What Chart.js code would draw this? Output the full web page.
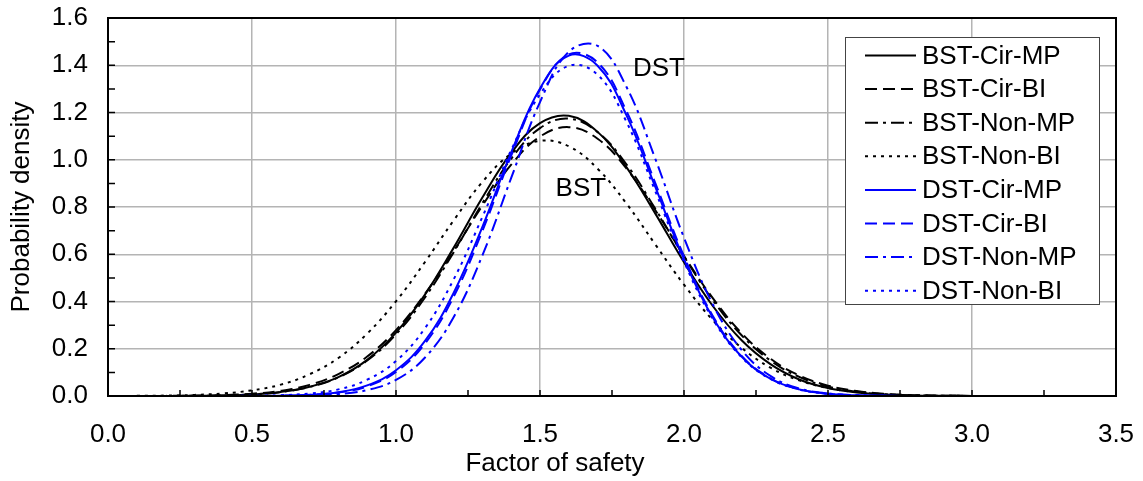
<!DOCTYPE html>
<html>
<head>
<meta charset="utf-8">
<script src="https://cdn.jsdelivr.net/npm/chart.js@4.4.1/dist/chart.umd.min.js"></script>
<style>
  html, body { margin: 0; padding: 0; background: #fff; }
  #wrap { width: 1143px; height: 481px; }
</style>
</head>
<body>
<div id="wrap"><canvas id="pdfChart" width="1143" height="481"></canvas></div>
<script>
// Factor of safety (x) and probability density
const factorOfSafety = [0.1, 0.2, 0.3, 0.4, 0.5, 0.6, 0.7, 0.8, 0.9, 1.0, 1.1, 1.2, 1.3, 1.4, 1.5, 1.6, 1.7, 1.8,
    1.9, 2.0, 2.1, 2.2, 2.3, 2.4, 2.5, 2.6, 2.7, 2.8, 2.9, 3.0, 3.1, 3.2, 3.3, 3.4, 3.45];

const bstCirMP = [0.0001, 0.0003, 0.0008, 0.0025, 0.0068, 0.017, 0.039, 0.080, 0.153, 0.268, 0.428, 0.627, 0.840, 1.029,
    1.155, 1.186, 1.118, 0.969, 0.773, 0.566, 0.381, 0.236, 0.135, 0.070, 0.034, 0.015, 0.006, 0.002, 0.001, 0.0002,
    0.0001, 0, 0, 0, 0];
const bstCirBI = [0.0002, 0.0005, 0.0015, 0.0039, 0.0098, 0.022, 0.047, 0.093, 0.167, 0.279, 0.431, 0.613, 0.806, 0.979,
    1.098, 1.138, 1.089, 0.963, 0.787, 0.593, 0.414, 0.266, 0.158, 0.087, 0.044, 0.021, 0.009, 0.0036, 0.0013, 0.0005,
    0.0001, 0, 0, 0, 0];
const bstNonMP = [0.0001, 0.0003, 0.0009, 0.0026, 0.0069, 0.017, 0.038, 0.079, 0.150, 0.261, 0.416, 0.608, 0.816, 1.004,
    1.134, 1.174, 1.117, 0.981, 0.793, 0.591, 0.406, 0.257, 0.150, 0.081, 0.040, 0.018, 0.0077, 0.003, 0.0011, 0.0004,
    0.0001, 0, 0, 0, 0];
const bstNonBI = [0.0007, 0.0018, 0.0046, 0.0108, 0.024, 0.048, 0.092, 0.161, 0.264, 0.401, 0.566, 0.743, 0.906, 1.026,
    1.080, 1.057, 0.962, 0.815, 0.642, 0.471, 0.321, 0.204, 0.120, 0.066, 0.034, 0.016, 0.0071, 0.0029, 0.0011, 0.0004,
    0.0001, 0, 0, 0, 0];
const dstCirMP = [0, 0, 0, 0.0001, 0.0003, 0.0014, 0.005, 0.016, 0.045, 0.109, 0.232, 0.436, 0.716, 1.031, 1.302, 1.441,
    1.398, 1.189, 0.886, 0.579, 0.332, 0.167, 0.073, 0.028, 0.0095, 0.0028, 0.0007, 0.0002, 0, 0, 0, 0, 0, 0, 0];
const dstCirBI = [0, 0, 0, 0.0001, 0.0003, 0.0012, 0.0045, 0.0145, 0.041, 0.102, 0.221, 0.420, 0.699, 1.017, 1.297, 1.446,
    1.412, 1.206, 0.902, 0.591, 0.339, 0.170, 0.075, 0.029, 0.0096, 0.0028, 0.0007, 0.0002, 0, 0, 0, 0, 0, 0, 0];
const dstNonMP = [0, 0, 0, 0, 0.0001, 0.0005, 0.0022, 0.008, 0.025, 0.068, 0.162, 0.333, 0.595, 0.923, 1.244, 1.457,
    1.482, 1.309, 1.005, 0.670, 0.388, 0.195, 0.085, 0.032, 0.011, 0.0031, 0.0008, 0.0002, 0, 0, 0, 0, 0, 0, 0];
const dstNonBI = [0, 0, 0.0001, 0.0003, 0.001, 0.0034, 0.0105, 0.028, 0.069, 0.148, 0.286, 0.493, 0.758, 1.041, 1.277,
    1.398, 1.360, 1.161, 0.868, 0.568, 0.326, 0.164, 0.072, 0.028, 0.0094, 0.0028, 0.0007, 0.0002, 0, 0, 0, 0, 0, 0, 0];

const seriesNames = ['BST-Cir-MP', 'BST-Cir-BI', 'BST-Non-MP', 'BST-Non-BI',
    'DST-Cir-MP', 'DST-Cir-BI', 'DST-Non-MP', 'DST-Non-BI'];
const seriesValues = [bstCirMP, bstCirBI, bstNonMP, bstNonBI, dstCirMP, dstCirBI, dstNonMP, dstNonBI];

const xTicks = [0, 0.5, 1.0, 1.5, 2.0, 2.5, 3.0, 3.5];
const yTicks = [0, 0.2, 0.4, 0.6, 0.8, 1.0, 1.2, 1.4, 1.6];

const FONT = 'Liberation Sans, Arial, Helvetica, sans-serif';
const dashes = [[], [12, 6], [13, 5, 3, 5], [3, 5]];

const datasets = seriesNames.map((name, i) => ({
    label: name,
    data: factorOfSafety.map((x, j) => ({ x: x, y: seriesValues[i][j] })),
    borderColor: i < 4 ? '#000000' : '#0000ff',
    borderWidth: 2,
    borderDash: dashes[i % 4],
    pointRadius: 0,
    tension: 0.4,
    fill: false,
    order: i < 4 ? 1 : 0
}));

// frame, inward minor ticks, x title, curve labels and the boxed legend
const decorations = {
    id: 'decorations',
    afterDatasetsDraw(chart) {
        const { ctx, chartArea: a, scales: { x, y } } = chart;
        ctx.save();
        ctx.strokeStyle = '#000';
        ctx.lineWidth = 1.5;
        ctx.beginPath();
        for (let i = 1; i < 14; i++) {
            const px = x.getPixelForValue(i * 0.25);
            ctx.moveTo(px, a.bottom);
            ctx.lineTo(px, a.bottom - 6);
        }
        for (let i = 1; i < 16; i++) {
            const py = y.getPixelForValue(i * 0.1);
            ctx.moveTo(a.left, py);
            ctx.lineTo(a.left + 7, py);
        }
        ctx.stroke();
        ctx.lineWidth = 2;
        ctx.strokeRect(a.left, a.top, a.right - a.left, a.bottom - a.top);

        ctx.fillStyle = '#000';
        ctx.font = '26px ' + FONT;
        ctx.textAlign = 'center';
        ctx.textBaseline = 'middle';
        // axis title sits left of the plot centre in the original
        ctx.fillText('Factor of safety', a.left + 447, a.bottom + 68);
        ctx.fillText('DST', x.getPixelForValue(1.913), y.getPixelForValue(1.384));
        ctx.fillText('BST', x.getPixelForValue(1.642), y.getPixelForValue(0.879));

        // legend box
        const lx = a.right - 271, ly = a.top + 19, lw = 254, lh = 267;
        ctx.fillStyle = '#fff';
        ctx.fillRect(lx, ly, lw, lh);
        ctx.strokeStyle = '#444';
        ctx.lineWidth = 1;
        ctx.strokeRect(lx + 0.5, ly + 0.5, lw, lh);
        ctx.textAlign = 'left';
        chart.data.datasets.forEach((ds, i) => {
            const cy = ly + 18.5 + i * 33.6;
            ctx.beginPath();
            ctx.strokeStyle = ds.borderColor;
            ctx.lineWidth = 2;
            ctx.setLineDash(ds.borderDash);
            ctx.moveTo(lx + 20, cy);
            ctx.lineTo(lx + 71, cy);
            ctx.stroke();
            ctx.setLineDash([]);
            ctx.fillStyle = '#000';
            ctx.fillText(ds.label, lx + 77, cy + 1);
        });
        ctx.restore();
    }
};

const ctx = document.getElementById('pdfChart').getContext('2d');
const pdfChart = new Chart(ctx, {
    type: 'line',
    data: { datasets: datasets },
    options: {
        responsive: false,
        animation: false,
        layout: { padding: { top: 18, right: 27, left: 0, bottom: 0 } },
        plugins: { legend: { display: false }, tooltip: { enabled: false } },
        scales: {
            x: {
                type: 'linear',
                min: 0,
                max: 3.5,
                afterFit: (scale) => { scale.height = 85; scale.paddingLeft = 0; scale.paddingRight = 0; },
                afterBuildTicks: (scale) => { scale.ticks = xTicks.map(v => ({ value: v })); },
                grid: { color: '#b4b4b4', lineWidth: 1.5, drawTicks: false },
                border: { display: false },
                ticks: {
                    color: '#000',
                    padding: 23,
                    maxRotation: 0,
                    font: { family: FONT, size: 26 },
                    callback: (v) => Number(v).toFixed(1)
                },
                title: { display: false }
            },
            y: {
                min: 0,
                max: 1.6,
                afterFit: (scale) => { scale.width = 108; scale.paddingTop = 0; scale.paddingBottom = 0; },
                afterBuildTicks: (scale) => { scale.ticks = yTicks.map(v => ({ value: v })); },
                grid: { color: '#b4b4b4', lineWidth: 1.5, drawTicks: false },
                border: { display: false },
                ticks: {
                    color: '#000',
                    padding: 20,
                    font: { family: FONT, size: 26 },
                    callback: (v) => Number(v).toFixed(1)
                },
                title: {
                    display: true,
                    text: 'Probability density',
                    color: '#000',
                    font: { family: FONT, size: 26 },
                    padding: { top: 6, bottom: 0 }
                }
            }
        }
    },
    plugins: [decorations]
});
</script>
</body>
</html>
